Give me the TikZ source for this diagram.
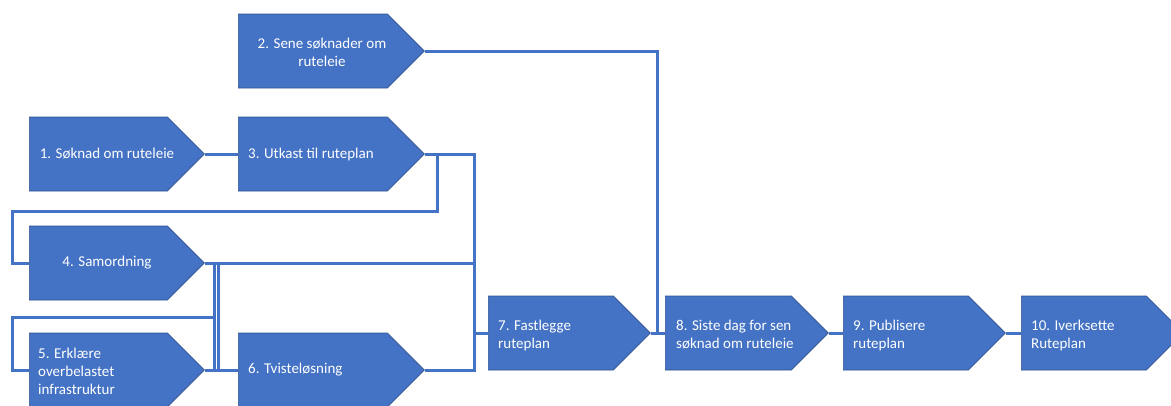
\documentclass[tikz,border=0pt]{standalone}
\usepackage{fontspec}
\setmainfont{Carlito}
\usetikzlibrary{shapes.symbols}
\definecolor{stepBlue}{HTML}{4472C4}
\definecolor{stepEdge}{HTML}{2F528F}

\begin{document}
\begin{tikzpicture}[x = 1pt, y = -1pt]
	\tikzstyle{stepStyle}=[shape = signal, signal to = east, signal pointer angle = 90, minimum height = 74pt, fill = stepBlue, draw = stepEdge, line width = 0.7pt, inner sep = 0pt, anchor = west]
	\tikzstyle{textStyle}=[text = white, font = \fontsize{15}{18}\selectfont, inner sep = 0pt, align = left]
	\tikzstyle{linkStyle}=[draw = stepBlue, line width = 3pt]
	\useasboundingbox (0,0) rectangle (1171,405);
	% steps
	\node[stepStyle, minimum width = 175pt] (s1) at (29,154) {};
	\node[stepStyle, minimum width = 186pt] (s2) at (238,51) {};
	\node[stepStyle, minimum width = 186pt] (s3) at (238,154) {};
	\node[stepStyle, minimum width = 175pt] (s4) at (29,263) {};
	\node[stepStyle, minimum width = 175pt] (s5) at (29,370) {};
	\node[stepStyle, minimum width = 186pt] (s6) at (238,370) {};
	\node[stepStyle, minimum width = 162pt] (s7) at (488,333) {};
	\node[stepStyle, minimum width = 163pt] (s8) at (665,333) {};
	\node[stepStyle, minimum width = 162pt] (s9) at (843,333) {};
	\node[stepStyle, minimum width = 162pt] (s10) at (1021,333) {};
	% texts
	\node[textStyle, align = center] (t1) at (107,154) {1. Søknad om ruteleie};
	\node[textStyle, align = center] (t2) at (322,52) {2. Sene søknader om\\ruteleie};
	\node[textStyle, anchor = west] (t3) at (248,154) {3. Utkast til ruteplan};
	\node[textStyle, align = center] (t4) at (107,263) {4. Samordning};
	\node[textStyle, anchor = west] (t5) at (38,371) {5. Erklære\\overbelastet\\infrastruktur};
	\node[textStyle, anchor = west] (t6) at (248,370) {6. Tvisteløsning};
	\node[textStyle, anchor = west] (t7) at (498,335) {7. Fastlegge\\ruteplan};
	\node[textStyle, anchor = west] (t8) at (676,335) {8. Siste dag for sen\\søknad om ruteleie};
	\node[textStyle, anchor = west] (t9) at (853,335) {9. Publisere\\ruteplan};
	\node[textStyle, anchor = west] (t10) at (1031,335) {10. Iverksette\\Ruteplan};
	% links
	\coordinate (c7) at (474,333);
	\coordinate (c8) at (657,333);
	\draw[linkStyle] (s1.east) -- (s3.west);
	\draw[linkStyle] (s2.east) -| (c8) -- (s8.west);
	\draw[linkStyle] (s3.east) -| (c7) -- (s7.west);
	\draw[linkStyle] (s4.east) -| (c7);
	\draw[linkStyle] (s6.east) -| (c7);
	\draw[linkStyle] (s3.east) -| (437,211) -| (12,263) -- (s4.west);
	\draw[linkStyle] (s4.east) -| (214,317) -| (12,370) -- (s5.west);
	\draw[linkStyle] (s5.east) -| (214,317);
	\draw[linkStyle] (s4.east) -| (218,370) -- (s6.west);
	\draw[linkStyle] (s5.east) -- (s6.west);
	\draw[linkStyle] (s7.east) -- (s8.west);
	\draw[linkStyle] (s8.east) -- (s9.west);
	\draw[linkStyle] (s9.east) -- (s10.west);
\end{tikzpicture}
\end{document}
